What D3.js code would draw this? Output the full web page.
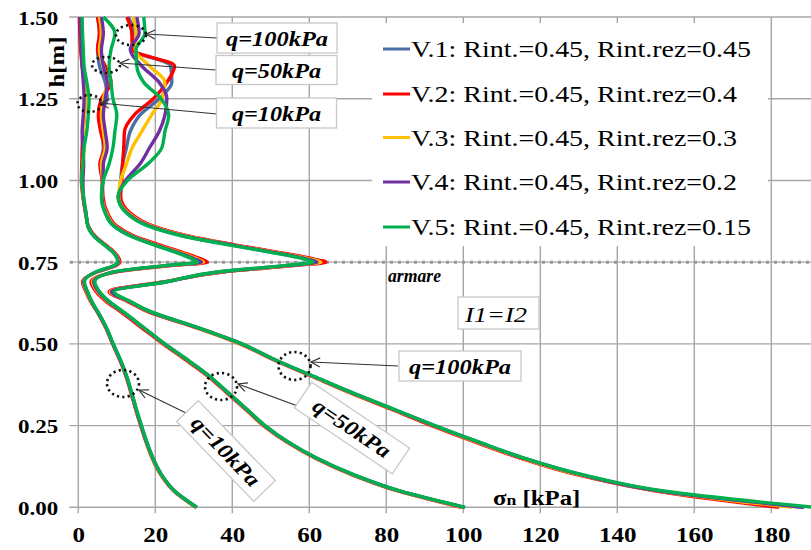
<!DOCTYPE html>
<html>
<head>
<meta charset="utf-8">
<script src="https://cdn.jsdelivr.net/npm/d3@7"></script>
<style>
  body { margin: 0; background: #fff; }
  svg { display: block; }
</style>
</head>
<body>
<svg id="chart" width="811" height="550"></svg>
<script>
// Depth levels h [m] shared by every profile
const heights = [0, 0.05, 0.10, 0.15, 0.20, 0.25, 0.30, 0.35, 0.40, 0.45, 0.50, 0.55, 0.60, 0.63, 0.66, 0.69, 0.72, 0.74, 0.75, 0.76, 0.78, 0.80, 0.83, 0.86, 0.90, 0.95, 1.00, 1.05, 1.10, 1.15, 1.20, 1.25, 1.30, 1.35, 1.40, 1.45, 1.50];

// Normal stress sigma_n [kPa], q = 10 kPa
const q10V1 = [30.7, 24.9, 21.5, 19.3, 17.7, 16.3, 15.0, 13.8, 12.5, 10.9, 9.0, 7.2, 4.9, 3.3, 2.1, 1.2, 4.7, 9.6, 10.6, 10.4, 9.3, 7.3, 4.2, 2.6, 1.9, 1.3, 1.0, 1.1, 1.3, 1.2, 1.5, 1.8, 1.6, 1.1, 0.8, 0.6, 0.5];
const q10V2 = [30.6, 24.8, 21.4, 19.2, 17.6, 16.2, 14.9, 13.7, 12.4, 10.8, 8.9, 7.1, 4.8, 3.2, 2.0, 1.1, 4.8, 9.8, 10.8, 10.6, 9.4, 7.4, 4.3, 2.6, 1.9, 1.2, 0.8, 0.9, 1.0, 1.2, 1.6, 1.8, 1.6, 1.0, 0.6, 0.4, 0.3];
const q10V3 = [30.7, 24.9, 21.5, 19.3, 17.7, 16.3, 15.0, 13.8, 12.5, 10.9, 9.0, 7.2, 4.9, 3.3, 2.2, 1.3, 4.7, 9.6, 10.5, 10.3, 9.2, 7.2, 4.1, 2.5, 2.0, 1.3, 1.0, 1.2, 1.5, 1.3, 1.6, 2.0, 1.8, 1.2, 0.9, 0.7, 0.6];
const q10V4 = [30.8, 25.0, 21.6, 19.4, 17.7, 16.3, 15.0, 13.8, 12.5, 10.9, 9.0, 7.2, 4.9, 3.4, 2.3, 1.4, 4.6, 9.5, 10.4, 10.2, 9.1, 7.1, 4.1, 2.5, 2.0, 1.3, 1.2, 1.4, 1.2, 1.0, 1.3, 1.5, 1.3, 1.0, 0.8, 0.6, 0.5];
const q10V5 = [30.8, 25.0, 21.6, 19.4, 17.8, 16.4, 15.1, 13.9, 12.6, 11.0, 9.1, 7.3, 5.0, 3.5, 2.4, 1.6, 4.5, 9.3, 10.2, 10.1, 9.0, 7.0, 4.0, 2.5, 2.0, 1.4, 0.9, 1.2, 1.5, 2.2, 2.6, 2.8, 2.2, 1.5, 1.3, 1.1, 1.0];

// q = 50 kPa
const q50V1 = [100.0, 83.2, 71.2, 61.8, 54.3, 48.3, 43.6, 38.8, 34.0, 28.2, 22.2, 16.6, 11.0, 7.4, 4.8, 3.5, 9.6, 24.2, 33.0, 31.2, 26.6, 21.4, 14.2, 9.8, 7.4, 6.3, 6.2, 5.8, 6.5, 6.0, 5.5, 7.5, 7.0, 5.5, 5.0, 5.5, 5.0];
const q50V2 = [99.5, 83.0, 71.0, 61.6, 54.1, 48.1, 43.4, 38.6, 33.8, 28.0, 22.0, 16.4, 10.8, 7.2, 4.6, 3.3, 9.8, 24.5, 33.5, 31.8, 27.0, 21.8, 14.5, 10.0, 7.6, 6.4, 6.2, 5.6, 6.8, 5.8, 5.2, 6.0, 8.5, 7.0, 5.0, 5.5, 5.0];
const q50V3 = [100.0, 83.2, 71.2, 61.8, 54.3, 48.3, 43.6, 38.8, 34.0, 28.3, 22.3, 16.8, 11.2, 7.6, 5.0, 3.7, 9.5, 24.0, 32.5, 30.8, 26.2, 21.0, 14.0, 9.6, 7.3, 6.2, 6.3, 6.0, 7.0, 6.5, 6.0, 6.5, 7.5, 6.5, 5.5, 6.0, 5.5];
const q50V4 = [100.3, 83.4, 71.4, 61.9, 54.4, 48.4, 43.7, 38.9, 34.1, 28.4, 22.4, 16.9, 11.3, 7.8, 5.2, 4.0, 9.3, 23.5, 32.0, 30.2, 25.8, 20.7, 13.8, 9.4, 7.1, 6.1, 6.4, 6.5, 7.5, 7.0, 6.5, 7.0, 7.5, 6.5, 6.0, 6.5, 6.0];
const q50V5 = [100.5, 83.5, 71.5, 62.0, 54.5, 48.5, 43.8, 39.0, 34.2, 28.5, 22.5, 17.0, 11.5, 8.0, 5.5, 4.3, 9.0, 23.0, 31.0, 29.5, 25.3, 20.3, 13.5, 9.2, 7.0, 6.0, 6.5, 8.0, 9.0, 9.5, 10.0, 9.0, 8.5, 8.0, 8.5, 9.5, 6.5];

// q = 100 kPa
const q100V1 = [188.0, 151.0, 130.0, 115.5, 103.5, 92.2, 81.6, 71.0, 61.0, 51.2, 42.2, 30.7, 18.0, 13.0, 8.3, 22.7, 37.2, 56.0, 63.8, 60.6, 51.6, 41.6, 28.2, 19.2, 13.2, 10.8, 11.0, 11.5, 12.5, 13.5, 16.0, 21.0, 24.3, 24.0, 14.5, 14.5, 13.0];
const q100V2 = [182.0, 150.0, 129.5, 115.0, 103.0, 91.8, 81.3, 70.7, 60.8, 51.0, 42.0, 30.5, 17.8, 12.8, 8.0, 22.5, 37.5, 56.5, 64.3, 61.0, 52.0, 42.0, 28.5, 19.5, 13.5, 11.0, 11.3, 11.5, 11.8, 12.0, 14.5, 19.5, 23.0, 25.0, 14.0, 13.9, 12.6];
const q100V3 = [185.5, 150.5, 130.0, 115.5, 103.5, 92.3, 81.7, 71.0, 61.0, 51.2, 42.2, 30.8, 18.2, 13.2, 8.3, 22.8, 37.0, 55.5, 63.0, 60.0, 51.2, 41.4, 28.0, 19.0, 13.0, 10.5, 11.0, 12.5, 14.0, 16.5, 19.0, 21.8, 22.5, 18.5, 14.8, 15.0, 14.3];
const q100V4 = [188.5, 151.0, 130.5, 115.8, 103.8, 92.5, 81.9, 71.2, 61.2, 51.3, 42.4, 30.9, 18.3, 13.3, 8.6, 22.9, 36.5, 54.8, 62.0, 59.2, 50.6, 41.0, 27.5, 18.6, 12.7, 10.4, 12.3, 16.0, 18.5, 21.0, 22.5, 23.0, 21.0, 16.5, 13.5, 15.8, 15.2];
const q100V5 = [191.0, 152.0, 131.0, 116.0, 104.0, 92.6, 82.0, 71.3, 61.3, 51.4, 42.5, 31.0, 18.5, 13.5, 9.3, 23.0, 36.0, 54.0, 61.0, 58.5, 50.0, 40.5, 27.0, 18.2, 12.5, 10.3, 12.8, 18.0, 21.7, 22.5, 23.5, 21.5, 17.0, 15.2, 15.0, 17.3, 17.0];

const variantNames = [
  "V.1: Rint.=0.45, Rint.rez=0.45",
  "V.2: Rint.=0.45, Rint.rez=0.4",
  "V.3: Rint.=0.45, Rint.rez=0.3",
  "V.4: Rint.=0.45, Rint.rez=0.2",
  "V.5: Rint.=0.45, Rint.rez=0.15"
];
const loadLabels = ["q=10kPa", "q=50kPa", "q=100kPa"];
const xTickValues = [0, 20, 40, 60, 80, 100, 120, 140, 160, 180];
const yTickValues = [0, 0.25, 0.5, 0.75, 1.0, 1.25, 1.5];
const reinforcementLevel = 0.75;

// ---------------------------------------------------------------
const variantColors = ["#4a6fa8", "#ff0000", "#ffc000", "#7030a0", "#00b050"];
const profiles = [
  [q10V1, q50V1, q100V1],
  [q10V2, q50V2, q100V2],
  [q10V3, q50V3, q100V3],
  [q10V4, q50V4, q100V4],
  [q10V5, q50V5, q100V5]
];

const svg = d3.select("#chart");
const serif = "'Liberation Serif', 'Times New Roman', serif";
const SX = 1.18;   // horizontal stretch of the lettering

const x = d3.scaleLinear().domain([0, 190]).range([78.3, 809.8]);
const y = d3.scaleLinear().domain([0, 1.5]).range([507.3, 17]);

svg.append("rect").attr("width", 811).attr("height", 550).attr("fill", "#fff");

// Grid
const gridColor = "#a6a6a6";
const grid = svg.append("g");
grid.selectAll("line.v").data(xTickValues).join("line")
  .attr("x1", d => x(d)).attr("x2", d => x(d))
  .attr("y1", y(1.5)).attr("y2", y(0) + 6)
  .attr("stroke", gridColor).attr("stroke-width", 1.4);
grid.selectAll("line.h").data(yTickValues).join("line")
  .attr("x1", x(0) - 9).attr("x2", 811)
  .attr("y1", d => y(d)).attr("y2", d => y(d))
  .attr("stroke", gridColor).attr("stroke-width", 1.4);

// Axes (labels only; tick marks come from the grid)
const yAxis = svg.append("g").attr("transform", `translate(${x(0)},0)`)
  .call(d3.axisLeft(y).tickValues(yTickValues).tickFormat(d3.format(".2f")).tickSize(0));
yAxis.select(".domain").remove();
yAxis.selectAll("text")
  .attr("x", null).attr("dy", "0.36em")
  .attr("transform", `translate(-20,0) scale(${SX},1)`)
  .attr("font-family", serif).attr("font-size", 19.5).attr("font-weight", "bold")
  .attr("fill", "#000").attr("text-anchor", "end");

const xAxis = svg.append("g").attr("transform", `translate(0,${y(0)})`)
  .call(d3.axisBottom(x).tickValues(xTickValues).tickFormat(d3.format("d")).tickSize(0));
xAxis.select(".domain").remove();
xAxis.selectAll("text")
  .attr("y", null).attr("dy", null)
  .attr("transform", `translate(0,34.5) scale(1.22,1)`)
  .attr("font-family", serif).attr("font-size", 20.5).attr("font-weight", "bold")
  .attr("fill", "#000").attr("text-anchor", "middle");

// Axis titles
const yTitle = svg.append("g").attr("transform", "translate(64,62) rotate(-90)");
yTitle.append("text").attr("transform", `scale(${SX},1)`)
  .attr("font-family", serif).attr("font-size", 21).attr("font-weight", "bold")
  .attr("text-anchor", "middle").text("h[m]");

const xTitle = svg.append("g").attr("transform", `translate(493,505) scale(${SX},1)`)
  .append("text").attr("font-family", serif).attr("font-size", 21).attr("font-weight", "bold");
xTitle.append("tspan").text("σ");
xTitle.append("tspan").attr("font-size", 15).text("n");
xTitle.append("tspan").text(" [kPa]");

// Reinforcement level
svg.append("line")
  .attr("x1", 70).attr("x2", 811)
  .attr("y1", y(reinforcementLevel)).attr("y2", y(reinforcementLevel))
  .attr("stroke", "#999").attr("stroke-width", 3).attr("stroke-dasharray", "3,5");

// Stress profiles
svg.append("defs").append("clipPath").attr("id", "plotClip")
  .append("rect").attr("x", 0).attr("y", y(1.5) - 2).attr("width", 811).attr("height", y(0) - y(1.5) + 4);

const line = d3.line()
  .x(d => x(d[1]))
  .y(d => y(d[0]))
  .curve(d3.curveMonotoneY);

const lines = svg.append("g").attr("clip-path", "url(#plotClip)");
profiles.forEach((group, vi) => {
  group.forEach(values => {
    lines.append("path")
      .datum(heights.map((h, i) => [h, values[i]]))
      .attr("d", line)
      .attr("fill", "none")
      .attr("stroke", variantColors[vi])
      .attr("stroke-width", 3.4)
      .attr("stroke-linejoin", "round");
  });
});

// Legend
const legend = svg.append("g");
legend.append("rect").attr("x", 372).attr("y", 23).attr("width", 396).attr("height", 223).attr("fill", "#fff");
const legendRows = [49, 94, 137.5, 182, 227];
const legendWidths = [340, 326, 326, 326, 340];
variantNames.forEach((name, i) => {
  legend.append("line")
    .attr("x1", 383).attr("x2", 410)
    .attr("y1", legendRows[i]).attr("y2", legendRows[i])
    .attr("stroke", variantColors[i]).attr("stroke-width", 3);
  legend.append("text")
    .attr("x", 411).attr("y", legendRows[i] + 8)
    .attr("font-family", serif).attr("font-size", 24)
    .attr("textLength", legendWidths[i]).attr("lengthAdjust", "spacingAndGlyphs")
    .text(name);
});

// Annotations
const defs = svg.select("defs");
defs.append("marker").attr("id", "arrowOpen")
  .attr("markerUnits", "userSpaceOnUse").attr("markerWidth", 14).attr("markerHeight", 14)
  .attr("viewBox", "-12 -7 14 14").attr("refX", 0).attr("refY", 0).attr("orient", "auto")
  .append("path").attr("d", "M-9,-4.5 L0,0 L-9,4.5").attr("fill", "none")
  .attr("stroke", "#333").attr("stroke-width", 1.2);

const notes = svg.append("g");

function arrow(x1, y1, x2, y2) {
  notes.append("line").attr("x1", x1).attr("y1", y1).attr("x2", x2).attr("y2", y2)
    .attr("stroke", "#333").attr("stroke-width", 1.1).attr("marker-end", "url(#arrowOpen)");
}
function ring(cx, cy, rx, ry) {
  notes.append("ellipse").attr("cx", cx).attr("cy", cy).attr("rx", rx).attr("ry", ry)
    .attr("fill", "none").attr("stroke", "#111").attr("stroke-width", 2.6)
    .attr("stroke-dasharray", "2.2,3.2");
}
function tag(cx, cy, w, h, angle, label, textW) {
  const g = notes.append("g").attr("transform", `translate(${cx},${cy}) rotate(${angle})`);
  g.append("rect").attr("x", -w / 2).attr("y", -h / 2).attr("width", w).attr("height", h)
    .attr("fill", "#fff").attr("stroke", "#c8c8c8").attr("stroke-width", 1.3);
  g.append("text").attr("x", 0).attr("y", 7.5)
    .attr("text-anchor", "middle")
    .attr("font-family", serif).attr("font-size", 21)
    .attr("font-weight", "bold").attr("font-style", "italic")
    .attr("textLength", textW).attr("lengthAdjust", "spacingAndGlyphs")
    .text(label);
}

// upper group of tags
arrow(217, 38, 146, 34);   ring(131, 35, 15, 10);
arrow(216, 70, 120, 63);   ring(106, 65, 14, 8);
arrow(217, 114, 100, 103); ring(89.5, 103.5, 12, 8.5);
tag(277, 38, 120, 30, 0, loadLabels[2], 102);
tag(276.5, 70, 121, 29, 0, loadLabels[1], 89);
tag(276.5, 113, 120, 30, 0, loadLabels[0], 89);

// lower group of tags
arrow(398, 366, 311, 362);  ring(294.5, 366, 16, 14);
arrow(303, 408, 238, 384);  ring(221, 386.5, 16, 13.5);
arrow(186, 413, 139, 390);  ring(123, 383.5, 16, 13.5);
tag(460, 366, 122, 30, 0, loadLabels[2], 102);
tag(352, 428, 118, 31, 34, loadLabels[1], 89);
tag(226, 451, 111, 30, 46, loadLabels[0], 89);

// Reinforcement captions
svg.append("text").attr("x", 388).attr("y", 282)
  .attr("font-family", serif).attr("font-size", 19)
  .attr("font-weight", "bold").attr("font-style", "italic")
  .attr("textLength", 53).attr("lengthAdjust", "spacingAndGlyphs")
  .text("armare");
const eq = svg.append("g");
eq.append("rect").attr("x", 458).attr("y", 297).attr("width", 81).attr("height", 32)
  .attr("fill", "#fff").attr("stroke", "#c8c8c8").attr("stroke-width", 1.3);
eq.append("text").attr("x", 465).attr("y", 322)
  .attr("font-family", serif).attr("font-size", 22).attr("font-style", "italic")
  .attr("textLength", 62).attr("lengthAdjust", "spacingAndGlyphs")
  .text("I1=I2");
</script>
</body>
</html>
